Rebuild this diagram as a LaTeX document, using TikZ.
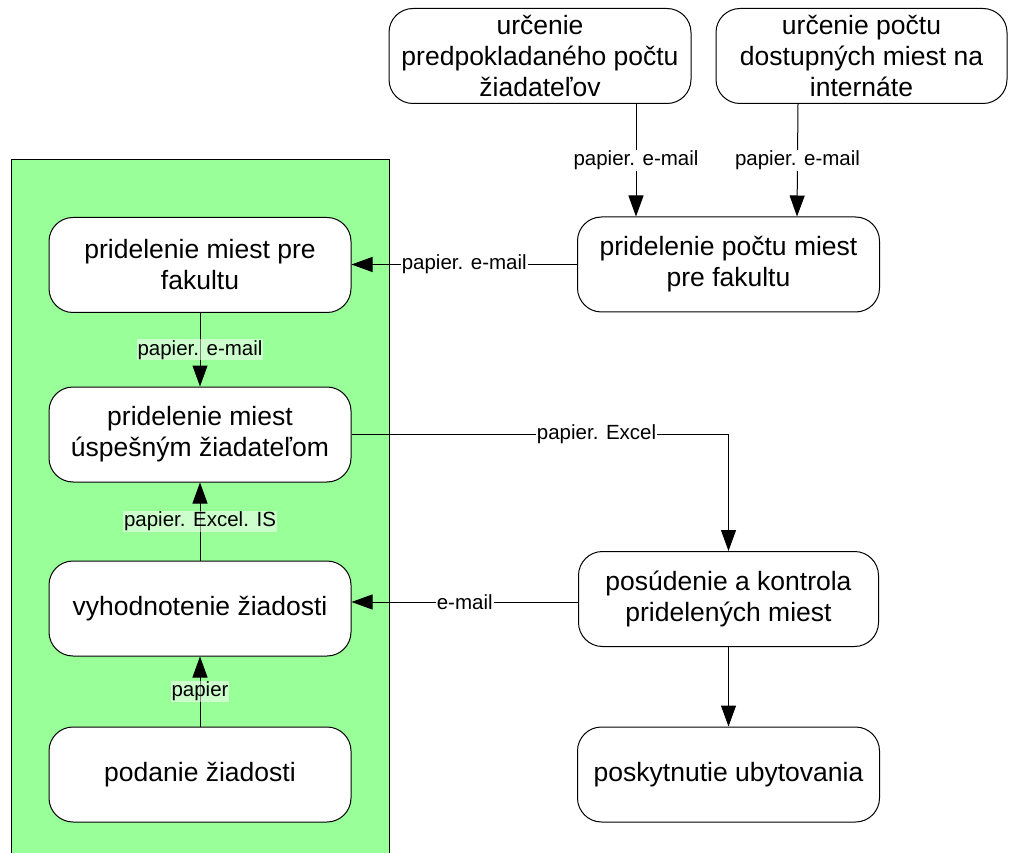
\documentclass[tikz,border=0pt]{standalone}
\usepackage{fontspec}
\setmainfont{Liberation Sans}
\usetikzlibrary{arrows.meta}
\definecolor{lanegreen}{HTML}{99FF99}

\begin{document}
\begin{tikzpicture}[x=1pt,y=-1pt]
\tikzset{
   box/.style={draw=black, fill=white, line width=1pt, rounded corners=24pt, minimum width=302pt, minimum height=95pt, align=center, inner sep=0pt, font=\fontsize{26.5}{31}\selectfont},
   flow/.style={-{Triangle[length=21pt,width=15pt]}, line width=1pt},
   lab/.style={fill=white, inner sep=1pt, font=\fontsize{20.5}{24}\selectfont},
   lablane/.style={lab, fill opacity=0.5, text opacity=1},
}
\useasboundingbox (0,0) rectangle (1010,853);
\draw[fill=lanegreen, line width=1pt] (11,160) rectangle (389,870);
\node[box] (b1) at (540,56) {určenie\\predpokladaného počtu\\žiadateľov};
\node[box, minimum width=291pt] (b2) at (861.5,56) {určenie počtu\\dostupných miest na\\internáte};
\node[box] (b3) at (728.5,264.5) {pridelenie počtu miest\\pre fakultu};
\node[box] (b4) at (200,265) {pridelenie miest pre\\fakultu};
\node[box] (b5) at (200,434.5) {pridelenie miest\\úspešným žiadateľom};
\node[box] (b6) at (200,608.5) {vyhodnotenie žiadosti};
\node[box] (b7) at (200,774.5) {podanie žiadosti};
\node[box, minimum width=300pt] (b8) at (728.5,599) {posúdenie a kontrola\\pridelených miest};
\node[box] (b9) at (728.5,774.5) {poskytnutie ubytovania};
\draw[flow] ([xshift=96pt]b1.south) -- node[lab]{papier. e-mail} ([xshift=-92.5pt]b3.north);
\draw[flow] ([xshift=-63.5pt]b2.south) -- node[lab]{papier. e-mail} ([xshift=68.5pt]b3.north);
\draw[flow] (b3.west) -- node[lab]{papier. e-mail} (b3.west -| b4.east);
\draw[flow] (b4.south) -- node[lablane]{papier. e-mail} (b5.north);
\draw[flow] (b5.east) -| node[lab, pos=0.325]{papier. Excel} (b8.north);
\draw[flow] ([yshift=-3pt]b8.west) -- node[lab]{e-mail} ([yshift=-3pt]b8.west -| b6.east);
\draw[flow] (b8.south) -- (b9.north);
\draw[flow] (b6.north) -- node[lablane]{papier. Excel. IS} (b5.south);
\draw[flow] (b7.north) -- node[lablane]{papier} (b6.south);
\end{tikzpicture}
\end{document}
